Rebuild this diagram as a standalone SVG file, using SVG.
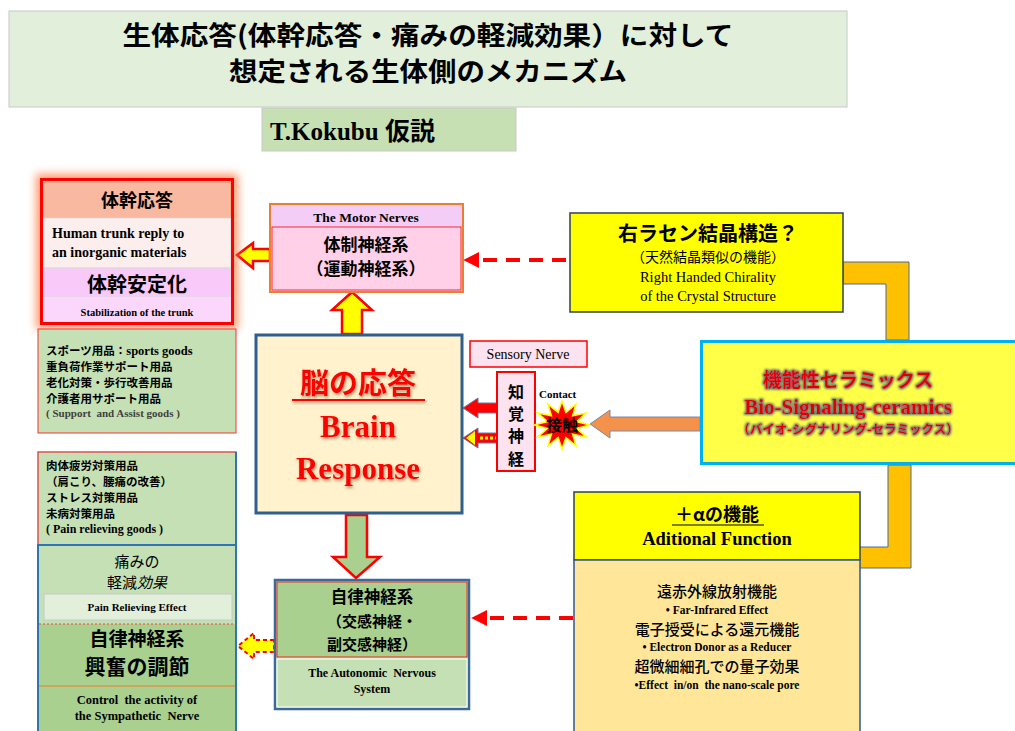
<svg xmlns="http://www.w3.org/2000/svg" width="1015" height="731" viewBox="0 0 1015 731">
<defs>
<style>
.jp{font-family:"Noto Sans CJK JP","Liberation Serif",sans-serif;font-weight:bold}
.jpr{font-family:"Noto Sans CJK JP","Liberation Serif",sans-serif}
.sb{font-family:"Liberation Serif","Noto Sans CJK JP",serif;font-weight:bold}
.sr{font-family:"Liberation Serif","Noto Sans CJK JP",serif}
.c{text-anchor:middle}
.red{fill:#ff0000}
.dash{stroke:#ff0000;stroke-width:4;stroke-dasharray:14 9;fill:none}
.bracket{fill:#ffc000;stroke:#4a6a9a;stroke-width:1}
</style>
<filter id="glow" x="-20%" y="-20%" width="140%" height="140%">
<feGaussianBlur stdDeviation="4"/>
</filter>
<filter id="tshadow" x="-10%" y="-10%" width="120%" height="130%">
<feGaussianBlur in="SourceAlpha" stdDeviation="1.5" result="b"/>
<feOffset dx="1" dy="2" result="o"/>
<feFlood flood-color="#7a5a3a" flood-opacity="0.6"/>
<feComposite in2="o" operator="in" result="s"/>
<feMerge><feMergeNode in="s"/><feMergeNode in="SourceGraphic"/></feMerge>
</filter>
<filter id="tglow" x="-10%" y="-20%" width="120%" height="140%">
<feMorphology in="SourceAlpha" operator="dilate" radius="1.2" result="d"/>
<feGaussianBlur in="d" stdDeviation="1" result="b"/>
<feFlood flood-color="#2f4f7f" flood-opacity="0.8"/>
<feComposite in2="b" operator="in" result="s"/>
<feMerge><feMergeNode in="s"/><feMergeNode in="SourceGraphic"/></feMerge>
</filter>
<marker id="ah" viewBox="0 0 10 10" refX="2" refY="5" markerWidth="4" markerHeight="4" orient="auto-start-reverse">
<path d="M0,0 L10,5 L0,10 z" fill="#ff0000"/>
</marker>
</defs>
<rect width="1015" height="731" fill="#ffffff"/>

<g id="title">
<rect x="9" y="11" width="838" height="96" fill="#e2efda" stroke="#c8c8c8" stroke-width="1"/>
<text x="428" y="45" class="jp c" font-size="26" textLength="611" lengthAdjust="spacingAndGlyphs">生体応答(体幹応答・痛みの軽減効果）に対して</text>
<text x="428" y="81" class="jp c" font-size="26" textLength="398" lengthAdjust="spacingAndGlyphs">想定される生体側のメカニズム</text>
</g>

<g id="hypothesis">
<rect x="262" y="108" width="254" height="43" fill="#c6e0b4" stroke="#c8c8c8" stroke-width="1"/>
<text x="270" y="140" class="sb" font-size="25">T.Kokubu <tspan class="jp">仮説</tspan></text>
</g>

<g id="connectors">
<path class="bracket" d="M843,262 H909 V340 H886 V284 H843 Z"/>
<path class="bracket" d="M888,465 H911 V568 H858 V547 H888 Z"/>
<line x1="566" y1="260" x2="476" y2="260" class="dash" marker-end="url(#ah)"/>
<line x1="573" y1="618" x2="484" y2="618" class="dash" marker-end="url(#ah)"/>
<path d="M342,334 V310 H332 L352,292 L372,310 H362 V334 Z" fill="#ffff00" stroke="#ff0000" stroke-width="2.5"/>
<path d="M270,249 H253 V243 L237,255 L253,268 V261 H270 Z" fill="#ffff00" stroke="#ff0000" stroke-width="2.5"/>
<path d="M346,515 V557 H333 L356,578 L380,557 H367 V515 Z" fill="#a9d08e" stroke="#ff0000" stroke-width="2.5"/>
<path d="M274,640 H254 V633 L238,646 L254,659 V652 H274 Z" fill="#ffff00" stroke="#ff0000" stroke-width="2" stroke-dasharray="4 3"/>
<path d="M497,403 H478 V398 L463,408 L478,418 V413 H497 Z" fill="#ff0000" stroke="#6a7aa0" stroke-width="1"/>
<path d="M497,433 H478 V428 L463,438 L478,448 V443 H497 Z" fill="#ff0000" stroke="#6a7aa0" stroke-width="1"/>
<path d="M475,431 L466,438 L475,445 Z" fill="#ffff00"/>
<line x1="480" y1="438" x2="497" y2="438" stroke="#ffff00" stroke-width="3" stroke-dasharray="3 2"/>
<path d="M700,417 H610 V410 L590,424 L610,438 V431 H700 Z" fill="#f4914a" stroke="#7a8aa8" stroke-width="1"/>
</g>

<g id="trunk-response">
<rect x="36" y="174" width="202" height="155" fill="#ff7030" opacity="0.7" filter="url(#glow)"/>
<rect x="40" y="178" width="194" height="147" fill="#fde9e3"/>
<rect x="43" y="182" width="188" height="36" fill="#f8b9a0" stroke="#f4a070" stroke-width="1"/>
<text x="137" y="207" class="jp c" font-size="18">体幹応答</text>
<rect x="43" y="218" width="188" height="50" fill="#fdeeee" stroke="#dcdcdc" stroke-width="1"/>
<text x="52" y="238" class="sb" font-size="14">Human trunk reply to</text>
<text x="52" y="257" class="sb" font-size="14">an inorganic materials</text>
<rect x="43" y="268" width="188" height="29" fill="#f9c9f9" stroke="#dcdcdc" stroke-width="1"/>
<text x="137" y="292" class="jp c" font-size="20">体幹安定化</text>
<rect x="43" y="297" width="188" height="25" fill="#fbd8fb"/>
<text x="137" y="316" class="sb c" font-size="10.5">Stabilization of the trunk</text>
<rect x="41.5" y="179.5" width="191" height="144" fill="none" stroke="#ff0000" stroke-width="3"/>
</g>

<g id="support-goods">
<rect x="38" y="329" width="198" height="104" fill="#c5e0b4" stroke="#ff3030" stroke-width="1"/>
<text x="46" y="355" class="jp" font-size="11.5">スポーツ用品：<tspan class="sb" font-size="12.5">sports goods</tspan></text>
<text x="46" y="371" class="jp" font-size="11.5">重負荷作業サポート用品</text>
<text x="46" y="387" class="jp" font-size="11.5">老化対策・歩行改善用品</text>
<text x="46" y="403" class="jp" font-size="11.5">介護者用サポート用品</text>
<text x="46" y="417" class="sb" font-size="11" fill="#404040" xml:space="preserve">( Support  and Assist goods )</text>
</g>

<g id="pain-goods">
<rect x="38" y="452" width="198" height="93" fill="#c5e0b4" stroke="#e05050" stroke-width="1.5"/>
<line x1="236" y1="452" x2="236" y2="545" stroke="#2e75b6" stroke-width="2"/>
<text x="46" y="470" class="jp" font-size="11.5">肉体疲労対策用品</text>
<text x="46" y="486" class="jp" font-size="11.5">（肩こり、腰痛の改善）</text>
<text x="46" y="502" class="jp" font-size="11.5">ストレス対策用品</text>
<text x="46" y="518" class="jp" font-size="11.5">未病対策用品</text>
<text x="46" y="533" class="sb" font-size="12">( Pain relieving goods )</text>
</g>

<g id="pain-relief">
<rect x="38" y="545" width="198" height="190" fill="#c5e0b4" stroke="#2e75b6" stroke-width="2"/>
<text x="137" y="567" class="jpr c" font-size="15">痛みの</text>
<text x="137" y="588" class="jpr c" font-size="15">軽減<tspan font-style="italic">効果</tspan></text>
<rect x="44" y="594" width="188" height="26" fill="#e2efda" stroke="#c8c8c8" stroke-width="1"/>
<text x="137" y="611" class="sb c" font-size="11">Pain Relieving Effect</text>
<rect x="39" y="624" width="196" height="62" fill="#a9d08e"/>
<line x1="39" y1="624" x2="235" y2="624" stroke="#ff4040" stroke-width="1" stroke-dasharray="2 2"/>
<text x="137" y="646" class="jp c" font-size="19">自律神経系</text>
<text x="137" y="674" class="jp c" font-size="21">興奮の調節</text>
<rect x="39" y="686" width="196" height="45" fill="#a9d08e"/>
<line x1="39" y1="686" x2="235" y2="686" stroke="#ed7d31" stroke-width="1"/>
<text x="137" y="704" class="sb c" font-size="12.5" xml:space="preserve">Control  the activity of</text>
<text x="137" y="720" class="sb c" font-size="12.5" xml:space="preserve">the Sympathetic  Nerve</text>
</g>

<g id="motor-nerves">
<rect x="270" y="204" width="193" height="88" fill="#fbd0e8" stroke="#ed7d31" stroke-width="2"/>
<rect x="271" y="205" width="191" height="22" fill="#f3cdf5"/>
<text x="366" y="222" class="sb c" font-size="13.5">The Motor Nerves</text>
<rect x="272" y="227" width="189" height="63" fill="#ffd0e8" stroke="#ff0000" stroke-width="0.8"/>
<text x="366" y="251" class="jp c" font-size="17">体制神経系</text>
<text x="366" y="275" class="jp c" font-size="17">（運動神経系）</text>
</g>

<g id="brain">
<rect x="256" y="335" width="206" height="178" fill="#fff2cc" stroke="#2f5f8f" stroke-width="3"/>
<g filter="url(#tshadow)">
<text x="358" y="394" class="jp c red" font-size="29">脳の応答</text>
<line x1="292" y1="400" x2="425" y2="400" stroke="#ff0000" stroke-width="2"/>
<text x="358" y="437" class="sb c red" font-size="31">Brain</text>
<text x="358" y="479" class="sb c red" font-size="31">Response</text>
</g>
</g>

<g id="autonomic">
<rect x="275" y="580" width="194" height="129" fill="#c5e0b4" stroke="#3a6a9a" stroke-width="2.5"/>
<rect x="277" y="582" width="190" height="75" fill="#a9d08e" stroke="#ff0000" stroke-width="0.8"/>
<text x="372" y="603" class="jp c" font-size="16.5">自律神経系</text>
<text x="372" y="627" class="jp c" font-size="15">（交感神経・</text>
<text x="372" y="650" class="jp c" font-size="15">副交感神経）</text>
<rect x="277" y="659" width="190" height="48" fill="#c5e0b4" stroke="#ffffff" stroke-width="1"/>
<text x="372" y="677" class="sb c" font-size="12" xml:space="preserve">The Autonomic  Nervous</text>
<text x="372" y="693" class="sb c" font-size="12">System</text>
</g>

<g id="sensory-nerve">
<rect x="470" y="341" width="117" height="26" fill="#fde2ef" stroke="#ff0000" stroke-width="1.5"/>
<text x="528" y="359" class="sr c" font-size="14">Sensory Nerve</text>
<rect x="497" y="372" width="38" height="99" fill="#fde2ef" stroke="#ff0000" stroke-width="2"/>
<text x="516" y="398" class="jp c" font-size="16">知</text>
<text x="516" y="420" class="jp c" font-size="16">覚</text>
<text x="516" y="442" class="jp c" font-size="16">神</text>
<text x="516" y="465" class="jp c" font-size="16">経</text>
</g>

<g id="contact">
<text x="539" y="398" class="sb" font-size="11">Contact</text>
<polygon points="590,425 576.5,428.4 586.2,437 572.6,434.2 576,445.8 565.9,437.6 562,449 558.1,437.6 548,445.8 551.4,434.2 537.8,437 547.5,428.4 534,425 547.5,421.6 537.8,413 551.4,415.8 548,404.2 558.1,412.4 562,401 565.9,412.4 576,404.2 572.6,415.8 586.2,413 576.5,421.6" fill="#ff0000" stroke="#ffff00" stroke-width="1.5"/>
<text x="562" y="431" class="jp c" font-size="16">接触</text>
</g>

<g id="right-handed">
<rect x="570" y="213" width="273" height="99" fill="#ffff00" stroke="#2f3f5f" stroke-width="1.5"/>
<text x="708" y="241" class="jp c" font-size="20">右ラセン結晶構造？</text>
<text x="708" y="262" class="sr c" font-size="14">（天然結晶類似の機能）</text>
<text x="708" y="282" class="sr c" font-size="14.5">Right Handed Chirality</text>
<text x="708" y="301" class="sr c" font-size="14.5">of the Crystal Structure</text>
</g>

<g id="ceramics">
<rect x="701.5" y="341.5" width="320" height="122" fill="#ffff47" stroke="#00b0f0" stroke-width="3"/>
<g filter="url(#tglow)">
<text x="848" y="387" class="jp c" font-size="19" fill="#e00000">機能性セラミックス</text>
<text x="848" y="414" class="sb c" font-size="21" fill="#e00000">Bio-Signaling-ceramics</text>
<text x="848" y="434" class="jp c" font-size="12.5" fill="#e00000">（バイオ-シグナリング-セラミックス）</text>
</g>
</g>

<g id="additional-function">
<rect x="574" y="492" width="286" height="68" fill="#ffff00" stroke="#2f3f5f" stroke-width="1.5"/>
<text x="717" y="521" class="jp c" font-size="18">＋αの機能</text>
<line x1="672" y1="525" x2="764" y2="525" stroke="#000" stroke-width="1.2"/>
<text x="717" y="545" class="sb c" font-size="18.5">Aditional Function</text>
<rect x="574" y="560" width="286" height="175" fill="#ffe699" stroke="#2f5597" stroke-width="1.5"/>
<text x="717" y="597" class="jpr c" font-size="15" font-weight="500">遠赤外線放射機能</text>
<text x="717" y="614" class="sb c" font-size="11.5">• Far-Infrared Effect</text>
<text x="717" y="635" class="jpr c" font-size="15" font-weight="500">電子授受による還元機能</text>
<text x="717" y="651" class="sb c" font-size="11.5">• Electron Donor as a Reducer</text>
<text x="717" y="672" class="jpr c" font-size="15" font-weight="500">超微細細孔での量子効果</text>
<text x="717" y="689" class="sb c" font-size="11.5" xml:space="preserve">•Effect  in/on  the nano-scale pore</text>
</g>
</svg>
